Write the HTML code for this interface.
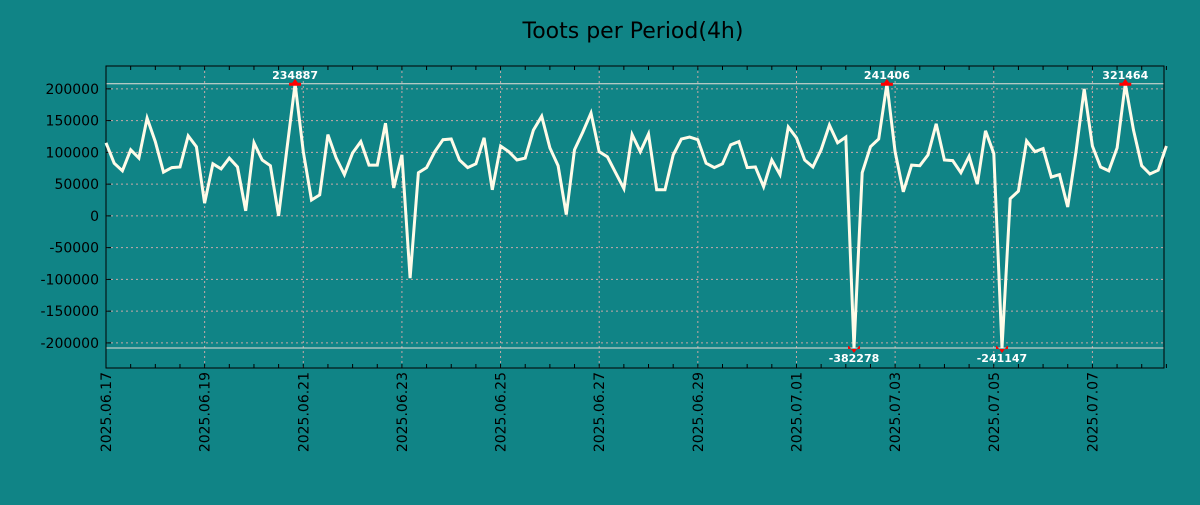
<!DOCTYPE html>
<html><head><meta charset="utf-8"><style>
body{margin:0;background:#108486;}
svg text{font-family:"DejaVu Sans","Liberation Sans",sans-serif;}
</style></head><body>
<svg id="chart" width="1200" height="500" xmlns="http://www.w3.org/2000/svg">
<rect width="1200" height="500" fill="#108486"/>
<text x="633" y="38" font-size="22" text-anchor="middle" fill="#000">Toots per Period(4h)</text>
<g id="grid"></g><g id="axes"></g><g id="series"></g><g id="marks"></g>
</svg>
<script>
const values=[115000,83000,71000,104000,91000,154000,117000,69000,76000,77000,126000,109000,20000,82000,74000,91000,77000,8000,115000,88000,79000,0,104000,234887,101000,25000,33000,128000,91000,65000,99000,117000,80000,80000,146000,44000,96000,-98000,68000,76000,101000,120000,121000,88000,76000,82000,123000,41000,110000,101000,88000,91000,135000,157000,107000,79000,2000,104000,132000,162000,101000,93000,68000,43000,128000,101000,129000,41000,41000,96000,121000,124000,120000,83000,76000,82000,112000,117000,76000,77000,46000,88000,65000,140000,123000,88000,77000,104000,143000,115000,124000,-382278,68000,109000,121000,241406,101000,38000,80000,79000,96000,145000,88000,87000,68000,94000,50000,134000,98000,-241147,27000,39000,118000,101000,106000,61000,65000,14000,101000,200000,110000,77000,71000,107000,321464,135000,79000,66000,72000,110000];
const yTicks=[200000,150000,100000,50000,0,-50000,-100000,-150000,-200000];
const xLabels=["2025.06.17","2025.06.19","2025.06.21","2025.06.23","2025.06.25","2025.06.27","2025.06.29","2025.07.01","2025.07.03","2025.07.05","2025.07.07"];
const highs=[234887,241406,321464];
const lows=[-382278,-241147];
const clipHi=208000, clipLo=-208000;
const L=106,R=1164,T=66,B=368,yMax=236000,yMin=-239500,step=8.22;
const NS="http://www.w3.org/2000/svg";
const X=i=>L+i*step;
const Y=v=>T+(yMax-v)/(yMax-yMin)*(B-T);
function mk(t,a,p){const e=document.createElementNS(NS,t);for(const k in a)e.setAttribute(k,a[k]);(p||document.getElementById('chart')).appendChild(e);return e;}
const grid=document.getElementById('grid'),axes=document.getElementById('axes'),ser=document.getElementById('series'),marks=document.getElementById('marks');
yTicks.forEach(v=>{
 const g=mk('line',{x1:L,x2:R,y1:Y(v),y2:Y(v),stroke:'#c8a8a8','stroke-dasharray':'2,3','stroke-width':1},grid);
 
 
 const tk=mk('line',{x1:L,x2:L+5,y1:Y(v),y2:Y(v),stroke:'#000'},axes);
 
 
 const t=mk('text',{x:99,y:Y(v)+5,'font-size':14,'text-anchor':'end',fill:'#000'},axes);
 
 
 t.textContent=v;
});
xLabels.forEach((s,k)=>{
 const x=X(k*12);
 const g=mk('line',{x1:x,x2:x,y1:T,y2:B,stroke:'#c8a8a8','stroke-dasharray':'2,3'},grid);
 
 
 const t=mk('text',{x:0,y:0,'font-size':14,'text-anchor':'end',fill:'#000',transform:`translate(${x+5},${B+4}) rotate(-90)`},axes);
 
 
 t.textContent=s;
});
for(let i=0;i<values.length;i+=3){
 const x=X(i);
 const a=mk('line',{x1:x,x2:x,y1:T,y2:T+4,stroke:'#000'},axes);
 
 
 const b=mk('line',{x1:x,x2:x,y1:B,y2:B-4,stroke:'#000'},axes);
 
 
}
[clipHi,clipLo].forEach(v=>{
 const l=mk('line',{x1:L,x2:R,y1:Y(v),y2:Y(v),stroke:'#e8e0d8','stroke-width':1},grid);
 
 
});
const frame=mk('rect',{x:L,y:T,width:R-L,height:B-T,fill:'none',stroke:'#000','stroke-width':1},axes);


const pts=values.map((v,i)=>X(i).toFixed(1)+','+Y(Math.max(clipLo,Math.min(clipHi,v))).toFixed(1)).join(' ');
const pl=mk('polyline',{points:pts,fill:'none',stroke:'#fffbe8','stroke-width':3,'stroke-linejoin':'miter'},ser);


values.forEach((v,i)=>{
 if(highs.includes(v)){
  const x=X(i),y=Y(clipHi);
  const m=mk('path',{d:`M${x-5},${y+2}L${x},${y-5}L${x+5},${y+2}Z M${x-6},${y-1}h12v3h-12z`,fill:'#f00'},marks);
  
  
  const t=mk('text',{x:x,y:y-5,'font-size':11,'font-weight':'bold','text-anchor':'middle',fill:'#fff'},marks);
  
  
  t.textContent=v;
 }
 if(lows.includes(v)){
  const x=X(i),y=Y(clipLo);
  const m=mk('path',{d:`M${x-5},${y-2}L${x},${y+5}L${x+5},${y-2}Z M${x-6},${y-2}h12v3h-12z`,fill:'#f00'},marks);
  
  
  const t=mk('text',{x:x,y:y+14,'font-size':11,'font-weight':'bold','text-anchor':'middle',fill:'#fff'},marks);
  
  
  t.textContent=v;
 }
});
</script>
</body></html>
